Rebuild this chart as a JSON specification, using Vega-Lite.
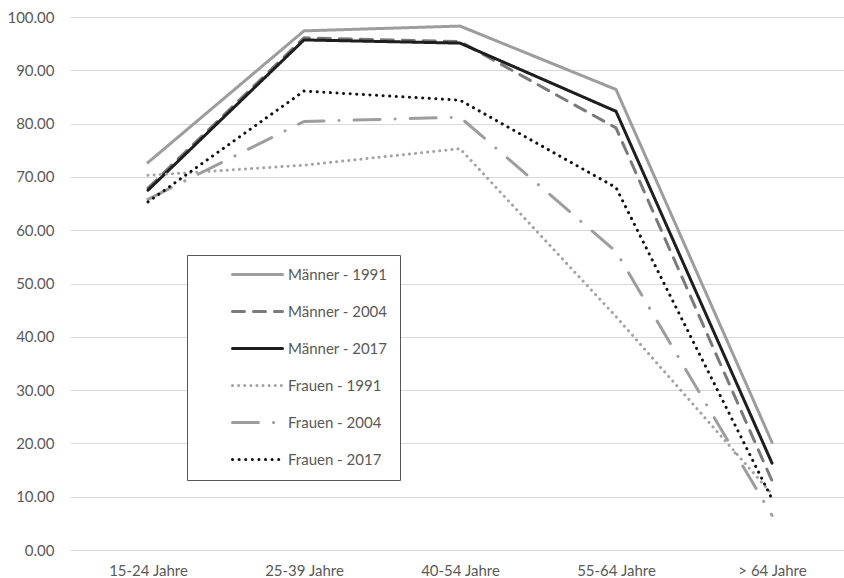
{
  "$schema": "https://vega.github.io/schema/vega-lite/v6.json",
  "width": 780,
  "height": 533,
  "autosize": "none",
  "padding": {"left": 70, "top": 17, "right": 0, "bottom": 28},
  "background": "white",
  "config": {
    "font": "Lato",
    "view": {"stroke": null},
    "legend": {
      "orient": "none",
      "legendX": 117,
      "legendY": 238,
      "padding": 12,
      "strokeColor": "#555555",
      "fillColor": "white",
      "symbolType": "M-4.17,0H4.17",
      "symbolSize": 144,
      "symbolStrokeWidth": 3,
      "symbolOffset": 51,
      "labelFontSize": 15,
      "labelColor": "#595959",
      "labelOffset": 23,
      "rowPadding": 21
    }
  },
  "data": {
    "values": [
      {"series": "Männer - 1991", "age": "15-24 Jahre", "value": 72.7},
      {"series": "Männer - 1991", "age": "25-39 Jahre", "value": 97.4},
      {"series": "Männer - 1991", "age": "40-54 Jahre", "value": 98.3},
      {"series": "Männer - 1991", "age": "55-64 Jahre", "value": 86.4},
      {"series": "Männer - 1991", "age": "> 64 Jahre", "value": 20.2},
      {"series": "Männer - 2004", "age": "15-24 Jahre", "value": 67.9},
      {"series": "Männer - 2004", "age": "25-39 Jahre", "value": 96.1},
      {"series": "Männer - 2004", "age": "40-54 Jahre", "value": 95.4},
      {"series": "Männer - 2004", "age": "55-64 Jahre", "value": 79.2},
      {"series": "Männer - 2004", "age": "> 64 Jahre", "value": 13.0},
      {"series": "Männer - 2017", "age": "15-24 Jahre", "value": 67.5},
      {"series": "Männer - 2017", "age": "25-39 Jahre", "value": 95.7},
      {"series": "Männer - 2017", "age": "40-54 Jahre", "value": 95.1},
      {"series": "Männer - 2017", "age": "55-64 Jahre", "value": 82.3},
      {"series": "Männer - 2017", "age": "> 64 Jahre", "value": 16.3},
      {"series": "Frauen - 1991", "age": "15-24 Jahre", "value": 70.3},
      {"series": "Frauen - 1991", "age": "25-39 Jahre", "value": 72.2},
      {"series": "Frauen - 1991", "age": "40-54 Jahre", "value": 75.3},
      {"series": "Frauen - 1991", "age": "55-64 Jahre", "value": 43.8},
      {"series": "Frauen - 1991", "age": "> 64 Jahre", "value": 10.5},
      {"series": "Frauen - 2004", "age": "15-24 Jahre", "value": 65.8},
      {"series": "Frauen - 2004", "age": "25-39 Jahre", "value": 80.4},
      {"series": "Frauen - 2004", "age": "40-54 Jahre", "value": 81.2},
      {"series": "Frauen - 2004", "age": "55-64 Jahre", "value": 56.0},
      {"series": "Frauen - 2004", "age": "> 64 Jahre", "value": 6.5},
      {"series": "Frauen - 2017", "age": "15-24 Jahre", "value": 65.3},
      {"series": "Frauen - 2017", "age": "25-39 Jahre", "value": 86.1},
      {"series": "Frauen - 2017", "age": "40-54 Jahre", "value": 84.4},
      {"series": "Frauen - 2017", "age": "55-64 Jahre", "value": 68.0},
      {"series": "Frauen - 2017", "age": "> 64 Jahre", "value": 9.6}
    ]
  },
  "mark": {"type": "line", "strokeWidth": 3, "strokeCap": "round", "strokeJoin": "round"},
  "encoding": {
    "x": {
      "field": "age",
      "type": "ordinal",
      "sort": ["15-24 Jahre", "25-39 Jahre", "40-54 Jahre", "55-64 Jahre", "> 64 Jahre"],
      "scale": {"type": "point", "padding": 0.5},
      "axis": {
        "title": null,
        "labelAngle": 0,
        "labelFontSize": 15,
        "labelColor": "#595959",
        "labelPadding": 13,
        "ticks": false,
        "domain": false,
        "grid": false
      }
    },
    "y": {
      "field": "value",
      "type": "quantitative",
      "scale": {"domain": [0, 100], "nice": false},
      "axis": {
        "title": null,
        "values": [0, 10, 20, 30, 40, 50, 60, 70, 80, 90, 100],
        "format": ".2f",
        "labelFontSize": 15,
        "labelColor": "#595959",
        "labelPadding": 16,
        "ticks": false,
        "domain": false,
        "grid": true,
        "gridColor": "#d9d9d9",
        "gridWidth": 1
      }
    },
    "color": {
      "field": "series",
      "type": "nominal",
      "sort": ["Männer - 1991", "Männer - 2004", "Männer - 2017", "Frauen - 1991", "Frauen - 2004", "Frauen - 2017"],
      "scale": {
        "domain": ["Männer - 1991", "Männer - 2004", "Männer - 2017", "Frauen - 1991", "Frauen - 2004", "Frauen - 2017"],
        "range": ["#9d9d9d", "#7a7a7a", "#1e1e1e", "#a3a3a3", "#9d9d9d", "#111111"]
      },
      "legend": {
        "title": null,
        "encode": {"symbols": {"update": {"strokeCap": {"value": "round"}}}}
      }
    },
    "strokeDash": {
      "field": "series",
      "type": "nominal",
      "sort": ["Männer - 1991", "Männer - 2004", "Männer - 2017", "Frauen - 1991", "Frauen - 2004", "Frauen - 2017"],
      "scale": {
        "domain": ["Männer - 1991", "Männer - 2004", "Männer - 2017", "Frauen - 1991", "Frauen - 2004", "Frauen - 2017"],
        "range": [[1, 0], [12, 9], [1, 0], [0.1, 6], [26, 15, 0.1, 15], [0.1, 6.5]]
      },
      "legend": {
        "title": null,
        "encode": {"symbols": {"update": {"strokeCap": {"value": "round"}}}}
      }
    }
  }
}
